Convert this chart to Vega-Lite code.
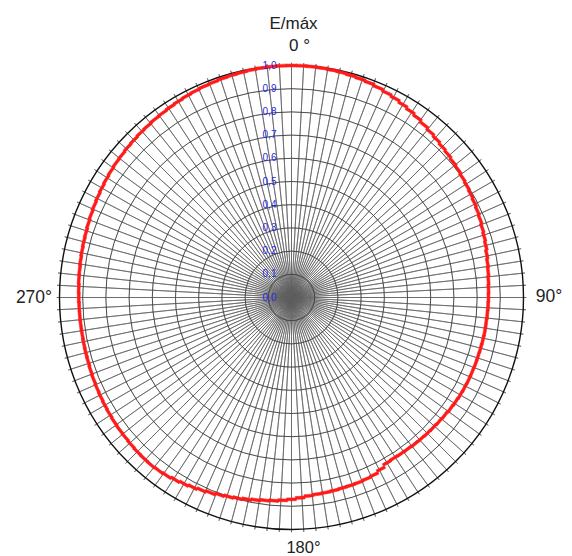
{
  "$schema": "https://vega.github.io/schema/vega-lite/v6.json",
  "width": 561,
  "height": 517,
  "padding": {"left": 11, "top": 39, "right": 0, "bottom": 0},
  "autosize": {"type": "none"},
  "background": "white",
  "config": {"view": {"stroke": null}, "font": "Liberation Sans"},
  "datasets": {
    "curve": [
      {"a": 0, "E": 1.0}, {"a": 2.5, "E": 1.0}, {"a": 5, "E": 0.999}, {"a": 7.5, "E": 0.998},
      {"a": 10, "E": 0.996}, {"a": 12.5, "E": 0.994}, {"a": 15, "E": 0.991}, {"a": 17.5, "E": 0.988},
      {"a": 20, "E": 0.984}, {"a": 22.5, "E": 0.979}, {"a": 25, "E": 0.973}, {"a": 27.5, "E": 0.967},
      {"a": 30, "E": 0.96}, {"a": 32.5, "E": 0.953}, {"a": 35, "E": 0.946}, {"a": 37.5, "E": 0.938},
      {"a": 40, "E": 0.931}, {"a": 42.5, "E": 0.925}, {"a": 45, "E": 0.919}, {"a": 47.5, "E": 0.914},
      {"a": 50, "E": 0.909}, {"a": 52.5, "E": 0.905}, {"a": 55, "E": 0.9}, {"a": 57.5, "E": 0.896},
      {"a": 60, "E": 0.892}, {"a": 62.5, "E": 0.888}, {"a": 65, "E": 0.884}, {"a": 67.5, "E": 0.88},
      {"a": 70, "E": 0.875}, {"a": 72.5, "E": 0.871}, {"a": 75, "E": 0.867}, {"a": 77.5, "E": 0.862},
      {"a": 80, "E": 0.858}, {"a": 82.5, "E": 0.855}, {"a": 85, "E": 0.852}, {"a": 87.5, "E": 0.85},
      {"a": 90, "E": 0.849}, {"a": 92.5, "E": 0.848}, {"a": 95, "E": 0.847}, {"a": 97.5, "E": 0.846},
      {"a": 100, "E": 0.846}, {"a": 102.5, "E": 0.845}, {"a": 105, "E": 0.844}, {"a": 107.5, "E": 0.843},
      {"a": 110, "E": 0.843}, {"a": 112.5, "E": 0.842}, {"a": 115, "E": 0.842}, {"a": 117.5, "E": 0.841},
      {"a": 120, "E": 0.84}, {"a": 122.5, "E": 0.838}, {"a": 125, "E": 0.836}, {"a": 127.5, "E": 0.833},
      {"a": 130, "E": 0.831}, {"a": 132.5, "E": 0.829}, {"a": 135, "E": 0.828}, {"a": 137.5, "E": 0.826},
      {"a": 140, "E": 0.825}, {"a": 142.5, "E": 0.823}, {"a": 145, "E": 0.822}, {"a": 147.5, "E": 0.821},
      {"a": 150, "E": 0.823}, {"a": 152.5, "E": 0.834}, {"a": 155, "E": 0.843}, {"a": 157.5, "E": 0.846},
      {"a": 160, "E": 0.848}, {"a": 162.5, "E": 0.849}, {"a": 165, "E": 0.85}, {"a": 167.5, "E": 0.852},
      {"a": 170, "E": 0.853}, {"a": 172.5, "E": 0.855}, {"a": 175, "E": 0.858}, {"a": 177.5, "E": 0.864},
      {"a": 180, "E": 0.87}, {"a": 182.5, "E": 0.875}, {"a": 185, "E": 0.879}, {"a": 187.5, "E": 0.882},
      {"a": 190, "E": 0.886}, {"a": 192.5, "E": 0.891}, {"a": 195, "E": 0.896}, {"a": 197.5, "E": 0.9},
      {"a": 200, "E": 0.905}, {"a": 202.5, "E": 0.911}, {"a": 205, "E": 0.916}, {"a": 207.5, "E": 0.922},
      {"a": 210, "E": 0.927}, {"a": 212.5, "E": 0.932}, {"a": 215, "E": 0.937}, {"a": 217.5, "E": 0.94},
      {"a": 220, "E": 0.942}, {"a": 222.5, "E": 0.941}, {"a": 225, "E": 0.94}, {"a": 227.5, "E": 0.938},
      {"a": 230, "E": 0.936}, {"a": 232.5, "E": 0.935}, {"a": 235, "E": 0.933}, {"a": 237.5, "E": 0.931},
      {"a": 240, "E": 0.929}, {"a": 242.5, "E": 0.927}, {"a": 245, "E": 0.925}, {"a": 247.5, "E": 0.923},
      {"a": 250, "E": 0.921}, {"a": 252.5, "E": 0.919}, {"a": 255, "E": 0.918}, {"a": 257.5, "E": 0.917},
      {"a": 260, "E": 0.916}, {"a": 262.5, "E": 0.916}, {"a": 265, "E": 0.916}, {"a": 267.5, "E": 0.916},
      {"a": 270, "E": 0.917}, {"a": 272.5, "E": 0.918}, {"a": 275, "E": 0.92}, {"a": 277.5, "E": 0.921},
      {"a": 280, "E": 0.923}, {"a": 282.5, "E": 0.925}, {"a": 285, "E": 0.927}, {"a": 287.5, "E": 0.929},
      {"a": 290, "E": 0.932}, {"a": 292.5, "E": 0.935}, {"a": 295, "E": 0.938}, {"a": 297.5, "E": 0.941},
      {"a": 300, "E": 0.944}, {"a": 302.5, "E": 0.947}, {"a": 305, "E": 0.95}, {"a": 307.5, "E": 0.953},
      {"a": 310, "E": 0.955}, {"a": 312.5, "E": 0.958}, {"a": 315, "E": 0.96}, {"a": 317.5, "E": 0.963},
      {"a": 320, "E": 0.965}, {"a": 322.5, "E": 0.968}, {"a": 325, "E": 0.97}, {"a": 327.5, "E": 0.973},
      {"a": 330, "E": 0.976}, {"a": 332.5, "E": 0.979}, {"a": 335, "E": 0.982}, {"a": 337.5, "E": 0.985},
      {"a": 340, "E": 0.987}, {"a": 342.5, "E": 0.99}, {"a": 345, "E": 0.992}, {"a": 347.5, "E": 0.994},
      {"a": 350, "E": 0.996}, {"a": 352.5, "E": 0.998}, {"a": 355, "E": 0.999}, {"a": 357.5, "E": 1.0}
    ],
    "spokes": [
      {"a": 0}, {"a": 3}, {"a": 6}, {"a": 9}, {"a": 12}, {"a": 15}, {"a": 18}, {"a": 21}, {"a": 24}, {"a": 27},
      {"a": 30}, {"a": 33}, {"a": 36}, {"a": 39}, {"a": 42}, {"a": 45}, {"a": 48}, {"a": 51}, {"a": 54}, {"a": 57},
      {"a": 60}, {"a": 63}, {"a": 66}, {"a": 69}, {"a": 72}, {"a": 75}, {"a": 78}, {"a": 81}, {"a": 84}, {"a": 87},
      {"a": 90}, {"a": 93}, {"a": 96}, {"a": 99}, {"a": 102}, {"a": 105}, {"a": 108}, {"a": 111}, {"a": 114}, {"a": 117},
      {"a": 120}, {"a": 123}, {"a": 126}, {"a": 129}, {"a": 132}, {"a": 135}, {"a": 138}, {"a": 141}, {"a": 144}, {"a": 147},
      {"a": 150}, {"a": 153}, {"a": 156}, {"a": 159}, {"a": 162}, {"a": 165}, {"a": 168}, {"a": 171}, {"a": 174}, {"a": 177},
      {"a": 180}, {"a": 183}, {"a": 186}, {"a": 189}, {"a": 192}, {"a": 195}, {"a": 198}, {"a": 201}, {"a": 204}, {"a": 207},
      {"a": 210}, {"a": 213}, {"a": 216}, {"a": 219}, {"a": 222}, {"a": 225}, {"a": 228}, {"a": 231}, {"a": 234}, {"a": 237},
      {"a": 240}, {"a": 243}, {"a": 246}, {"a": 249}, {"a": 252}, {"a": 255}, {"a": 258}, {"a": 261}, {"a": 264}, {"a": 267},
      {"a": 270}, {"a": 273}, {"a": 276}, {"a": 279}, {"a": 282}, {"a": 285}, {"a": 288}, {"a": 291}, {"a": 294}, {"a": 297},
      {"a": 300}, {"a": 303}, {"a": 306}, {"a": 309}, {"a": 312}, {"a": 315}, {"a": 318}, {"a": 321}, {"a": 324}, {"a": 327},
      {"a": 330}, {"a": 333}, {"a": 336}, {"a": 339}, {"a": 342}, {"a": 345}, {"a": 348}, {"a": 351}, {"a": 354}, {"a": 357}
    ],
    "rings": [
      {"r": 0.1}, {"r": 0.2}, {"r": 0.3}, {"r": 0.4}, {"r": 0.5}, {"r": 0.6}, {"r": 0.7}, {"r": 0.8}, {"r": 0.9}
    ],
    "ticklabels": [
      {"r": 0.0, "label": "0,0"}, {"r": 0.1, "label": "0,1"}, {"r": 0.2, "label": "0,2"}, {"r": 0.3, "label": "0,3"},
      {"r": 0.4, "label": "0,4"}, {"r": 0.5, "label": "0,5"}, {"r": 0.6, "label": "0,6"}, {"r": 0.7, "label": "0,7"},
      {"r": 0.8, "label": "0,8"}, {"r": 0.9, "label": "0,9"}, {"r": 1.0, "label": "1,0"}
    ]
  },
  "layer": [
    {
      "data": {"name": "rings"},
      "mark": {"type": "arc", "filled": false, "stroke": "#bdbdbd", "strokeWidth": 0.6, "theta": 0, "theta2": 6.2832},
      "encoding": {
        "radius": {"field": "r", "type": "quantitative", "stack": null, "scale": {"type": "linear", "domain": [0, 1], "range": [0, 232], "zero": true}}
      }
    },
    {
      "data": {"name": "spokes"},
      "mark": {"type": "arc", "filled": false, "stroke": "#5e5e5e", "strokeWidth": 0.7},
      "encoding": {
        "theta": {"field": "a", "type": "quantitative", "stack": null, "scale": {"type": "linear", "domain": [0, 360], "range": [0, 6.283185]}},
        "theta2": {"field": "a"},
        "radius": {"datum": 1.012, "type": "quantitative", "stack": null}
      }
    },
    {
      "data": {"name": "rings"},
      "mark": {"type": "arc", "filled": false, "stroke": "#404040", "strokeWidth": 0.9, "strokeDashOffset": 1.5, "theta": 0, "theta2": 6.2832},
      "encoding": {
        "radius": {"field": "r", "type": "quantitative", "stack": null},
        "strokeDash": {
          "field": "r", "type": "ordinal", "legend": null,
          "scale": {
            "domain": [0.1, 0.2, 0.3, 0.4, 0.5, 0.6, 0.7, 0.8, 0.9],
            "range": [[10, 0], [10, 0], [3, 0.644], [3, 1.859], [3, 3.074], [3, 4.288], [3, 5.503], [3, 6.718], [3, 7.932]]
          }
        }
      }
    },
    {
      "data": {"values": [{}]},
      "mark": {"type": "arc", "filled": false, "stroke": "#111111", "strokeWidth": 1.4, "theta": 0, "theta2": 6.2832},
      "encoding": {
        "radius": {"datum": 1, "type": "quantitative", "stack": null}
      }
    },
    {
      "data": {"name": "curve"},
      "mark": {"type": "arc", "color": "#ff1a1a", "stroke": "#ff1a1a", "strokeWidth": 0.6, "thetaOffset": -0.024, "theta2Offset": 0.024, "radiusOffset": 1.4, "radius2Offset": -1.4},
      "encoding": {
        "theta": {"field": "a", "type": "quantitative", "stack": null},
        "theta2": {"field": "a"},
        "radius": {"field": "E", "type": "quantitative", "stack": null},
        "radius2": {"field": "E"}
      }
    },
    {
      "data": {"name": "ticklabels"},
      "mark": {"type": "text", "fontSize": 10, "color": "#2828e0", "dx": -22, "align": "center", "baseline": "middle"},
      "encoding": {
        "theta": {"datum": 0, "type": "quantitative"},
        "radius": {"field": "r", "type": "quantitative", "stack": null},
        "text": {"field": "label"}
      }
    },
    {
      "data": {"values": [{}]},
      "mark": {"type": "text", "text": "E/máx", "fontSize": 17, "color": "#222222", "dx": 2, "align": "center", "baseline": "middle"},
      "encoding": {"theta": {"datum": 0, "type": "quantitative"}, "radius": {"datum": 1.18, "type": "quantitative", "stack": null}}
    },
    {
      "data": {"values": [{}]},
      "mark": {"type": "text", "text": "0 °", "fontSize": 17, "color": "#222222", "dx": 8, "align": "center", "baseline": "middle"},
      "encoding": {"theta": {"datum": 0, "type": "quantitative"}, "radius": {"datum": 1.085, "type": "quantitative", "stack": null}}
    },
    {
      "data": {"values": [{}]},
      "mark": {"type": "text", "text": "90°", "fontSize": 17.5, "color": "#222222", "align": "center", "baseline": "middle"},
      "encoding": {"theta": {"datum": 90, "type": "quantitative"}, "radius": {"datum": 1.11, "type": "quantitative", "stack": null}}
    },
    {
      "data": {"values": [{}]},
      "mark": {"type": "text", "text": "180°", "fontSize": 16.5, "color": "#222222", "dx": 12, "align": "center", "baseline": "alphabetic"},
      "encoding": {"theta": {"datum": 180, "type": "quantitative"}, "radius": {"datum": 1.1, "type": "quantitative", "stack": null}}
    },
    {
      "data": {"values": [{}]},
      "mark": {"type": "text", "text": "270°", "fontSize": 17.5, "color": "#222222", "align": "center", "baseline": "middle"},
      "encoding": {"theta": {"datum": 270, "type": "quantitative"}, "radius": {"datum": 1.11, "type": "quantitative", "stack": null}}
    }
  ]
}
